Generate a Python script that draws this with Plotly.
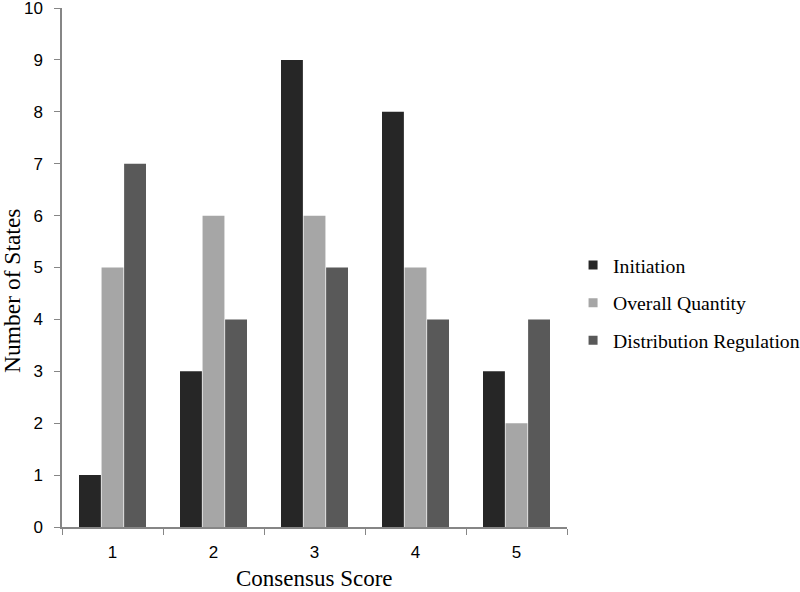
import plotly.graph_objects as go

categories = ["1", "2", "3", "4", "5"]
initiation = [1, 3, 9, 8, 3]
overall_quantity = [5, 6, 6, 5, 2]
distribution_regulation = [7, 4, 5, 4, 4]
y_ticks = list(range(0, 11))

series = [
    ("Initiation", initiation, "#262626"),
    ("Overall Quantity", overall_quantity, "#a6a6a6"),
    ("Distribution Regulation", distribution_regulation, "#595959"),
]

fig = go.Figure()
for i, (name, vals, color) in enumerate(series):
    fig.add_trace(go.Bar(
        x=categories, y=vals, name=name, showlegend=False,
        marker=dict(color=color, line=dict(width=0)),
    ))
for i, (name, vals, color) in enumerate(series):
    fig.add_trace(go.Scatter(
        x=[None], y=[None], mode="markers", name=name, legendgroup=f"g{i}",
        marker=dict(symbol="square", size=9, color=color),
    ))

axis_color = "#868686"
serif = "Liberation Serif, Times New Roman"
L, R, T, B, W, H = 62, 233, 8, 65, 800, 592
pw, ph = W - L - R, H - T - B

fig.update_layout(
    width=W, height=H,
    margin=dict(l=L, r=R, t=T, b=B, autoexpand=False),
    plot_bgcolor="white", paper_bgcolor="white",
    barmode="group", bargap=0.33, bargroupgap=0.03,
    font=dict(family="Liberation Sans, Arial", color="black", size=17),
    legend=dict(
        x=1.012, y=0.432, xanchor="left", yanchor="middle",
        font=dict(family=serif, size=19.7),
        tracegroupgap=9, itemwidth=30,
    ),
    xaxis=dict(
        showline=True, linecolor=axis_color, linewidth=1.5,
        ticks="outside", tickson="boundaries", ticklen=6, tickcolor=axis_color,
        ticklabelstandoff=9,
        showgrid=False, tickfont=dict(size=17), automargin=False,
    ),
    yaxis=dict(
        range=[0, 10.001], tickvals=y_ticks,
        showline=True, linecolor=axis_color, linewidth=1.5,
        ticks="outside", ticklen=6, tickcolor=axis_color, ticklabelstandoff=8,
        ticklabeloverflow="allow",
        showgrid=False, zeroline=False, tickfont=dict(size=17), automargin=False,
    ),
    annotations=[
        dict(text="Consensus Score", xref="paper", yref="paper",
             x=0.5, y=-(578 - (T + ph)) / ph, xanchor="center", yanchor="middle",
             showarrow=False, font=dict(family=serif, size=23)),
        dict(text="Number of States", xref="paper", yref="paper", textangle=-90,
             x=(12 - L) / pw, y=((T + ph) - 291) / ph, xanchor="center", yanchor="middle",
             showarrow=False, font=dict(family=serif, size=23.5)),
    ],
)

fig.write_html("out.html", config={"displayModeBar": False},
               post_script="document.body.style.margin='0';")
